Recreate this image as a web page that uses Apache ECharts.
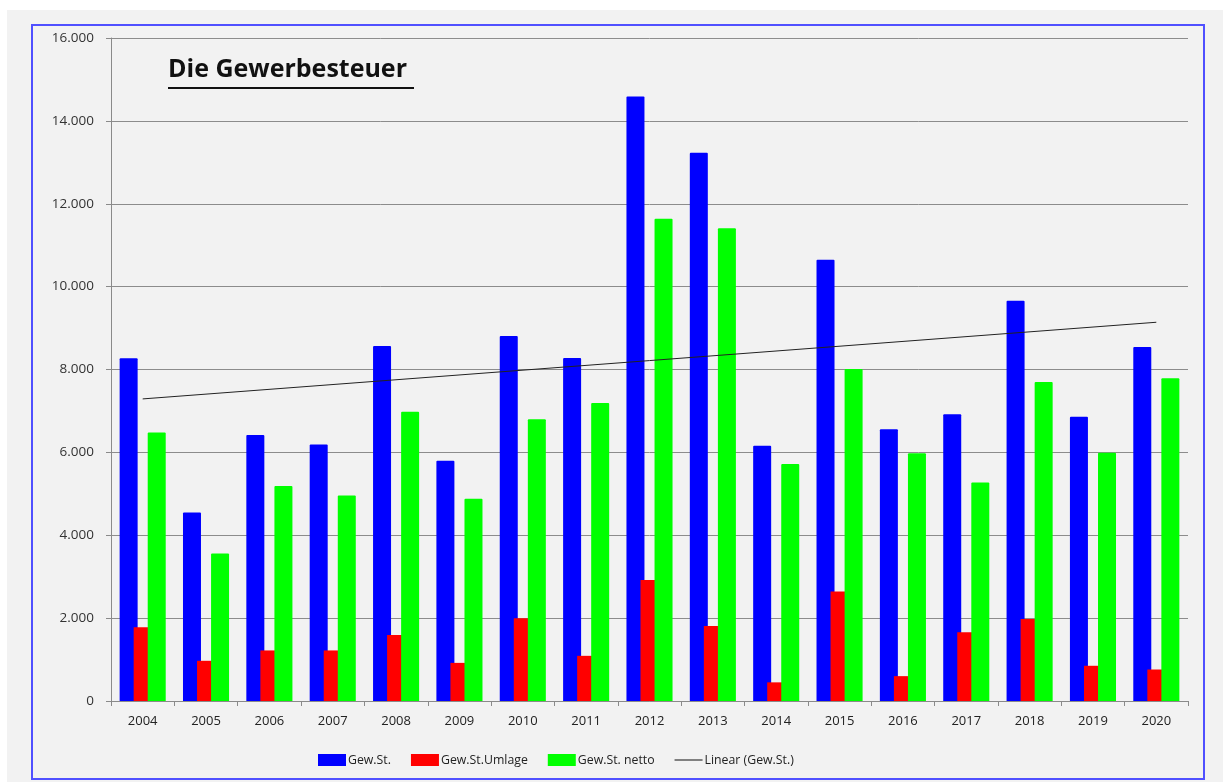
<!DOCTYPE html>
<html>
<head>
<meta charset="utf-8">
<script src="https://cdn.jsdelivr.net/npm/echarts@6/dist/echarts.min.js"></script>
<style>
  html, body { margin: 0; padding: 0; background: #ffffff; }
  #panel { position: absolute; left: 7px; top: 10px; width: 1216px; height: 772px; background: #f2f2f2; }
  #frame { position: absolute; left: 31px; top: 24px; width: 1170px; height: 752px; border: 2px solid #5050ff; }
  #chart { position: absolute; left: 0; top: 0; width: 1223px; height: 782px; }
</style>
</head>
<body>
<div id="panel"></div>
<div id="frame"></div>
<div id="chart"></div>
<script>
const years = ['2004','2005','2006','2007','2008','2009','2010','2011','2012','2013','2014','2015','2016','2017','2018','2019','2020'];
const gewSt =      [8270, 4550, 6420, 6190, 8570, 5800, 8810, 8280, 14590, 13230, 6160, 10650, 6560, 6920, 9660, 6860, 8540];
const gewUmlage =  [1780,  970, 1220, 1220, 1590,  920, 2000, 1090,  2920,  1810,  450,  2640,  600, 1660, 1980,  850,  760];
const gewNetto =   [6480, 3560, 5190, 4960, 6980, 4880, 6800, 7190, 11640, 11410, 5720,  8010, 5980, 5270, 7700, 5990, 7790];
const trendStart = ['2004', 7290];
const trendEnd =   ['2020', 9140];
const yTicks = { min: 0, max: 16000, interval: 2000 };

const FONT = 'Open Sans';
const chart = echarts.init(document.getElementById('chart'), null, { renderer: 'canvas' });

function fmt(v) {
  return String(v).replace(/\B(?=(\d{3})+(?!\d))/g, '.');
}

chart.setOption({
  backgroundColor: 'transparent',
  animation: false,
  textStyle: { fontFamily: FONT },
  graphic: [
    { type: 'text', left: 168, top: 57, style: { text: 'Die Gewerbesteuer', font: 'bold 25px "Open Sans"', fill: '#111' } },
    { type: 'rect', shape: { x: 168, y: 87, width: 246, height: 2 }, style: { fill: '#111' } }
  ],
  grid: { left: 111, right: 35, top: 38, bottom: 81, containLabel: false },
  legend: {
    left: 313, top: 749,
    itemWidth: 28, itemHeight: 12, itemGap: 20,
    symbolKeepAspect: true,
    textStyle: { fontFamily: FONT, fontSize: 12.3, color: '#222', padding: [0, 0, 0, -3] },
    data: [
      { name: 'Gew.St.', icon: 'rect' },
      { name: 'Gew.St.Umlage', icon: 'rect' },
      { name: 'Gew.St. netto', icon: 'rect' },
      { name: 'Linear (Gew.St.)', icon: 'path://M0 0H28V1.2H0Z', itemStyle: { color: '#333' } }
    ]
  },
  xAxis: {
    type: 'category',
    data: years,
    boundaryGap: true,
    axisLine: { lineStyle: { color: '#8a8a8a', width: 1 } },
    axisTick: { show: true, length: 5, lineStyle: { color: '#8a8a8a' } },
    axisLabel: { color: '#222', fontSize: 13, margin: 14, fontFamily: FONT }
  },
  yAxis: {
    type: 'value',
    min: yTicks.min, max: yTicks.max, interval: yTicks.interval,
    axisLine: { show: true, lineStyle: { color: '#8a8a8a', width: 1 } },
    axisTick: { show: true, length: 5, lineStyle: { color: '#8a8a8a' } },
    axisLabel: { color: '#333', fontSize: 13.5, margin: 17, fontFamily: FONT, formatter: fmt },
    splitLine: { lineStyle: { color: '#8c8c8c', width: 1 } }
  },
  series: [
    { name: 'Gew.St.', type: 'bar', data: gewSt, barWidth: 18, barGap: '-22%', itemStyle: { color: '#0000ff', borderRadius: [1,1,0,0] } },
    { name: 'Gew.St.Umlage', type: 'bar', data: gewUmlage, barWidth: 18, barGap: '-22%', itemStyle: { color: '#ff0000' } },
    { name: 'Gew.St. netto', type: 'bar', data: gewNetto, barWidth: 18, barGap: '-22%', itemStyle: { color: '#00ff00', borderRadius: [1,1,0,0] } },
    { name: 'Linear (Gew.St.)', type: 'line', data: [trendStart, trendEnd], symbol: 'none', z: 5,
      lineStyle: { color: '#222', width: 1 }, itemStyle: { color: '#222' } }
  ]
});
</script>
</body>
</html>
